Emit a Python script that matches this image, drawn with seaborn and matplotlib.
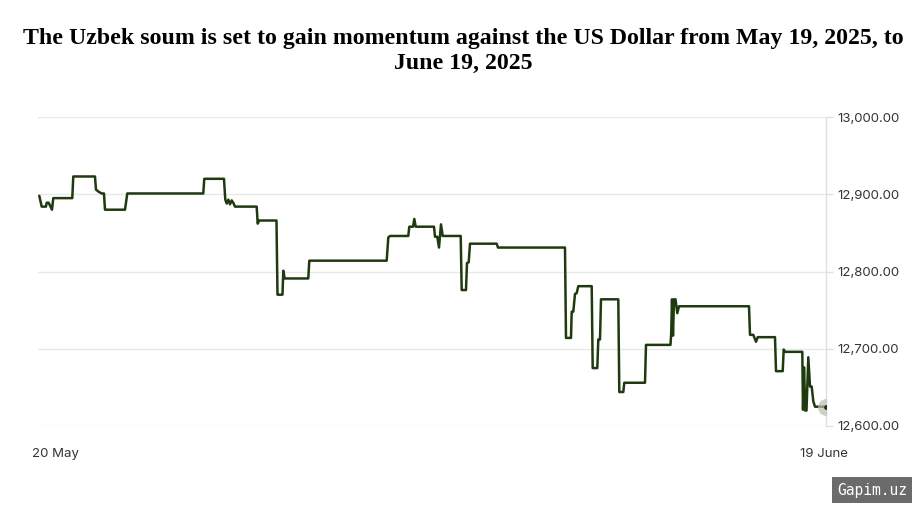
import matplotlib
matplotlib.use("Agg")
import matplotlib.pyplot as plt
import matplotlib.dates as mdates
import matplotlib.ticker as mticker
import pandas as pd
import seaborn as sns

# ---- data ----
title_text = ("The Uzbek soum is set to gain momentum against the US Dollar from May 19, 2025, to\n"
              "June 19, 2025")
base_time = "2025-05-20 00:00"
# hours relative to 20 May 2025 00:00
hours = [-14.70, -12.45, -8.43, -7.77, -5.90, -2.81, -1.59, 16.20, 17.14, 37.46,
         38.39, 41.20, 43.73, 45.88, 46.82, 65.55, 66.48, 67.70, 138.87, 139.80,
         158.25, 159.47, 160.78, 162.28, 163.87, 165.46, 166.96, 168.55, 188.87, 189.81,
         191.31, 207.41, 208.35, 213.03, 213.78, 215.09, 237.19, 238.13, 310.60, 312.10,
         313.69, 330.83, 331.77, 335.23, 336.45, 337.76, 354.90, 355.83, 357.99, 359.58,
         361.45, 363.04, 379.90, 380.83, 384.86, 385.80, 387.39, 388.61, 413.61, 414.83,
         477.56, 478.50, 483.18, 483.84, 485.34, 486.93, 488.52, 490.02, 502.57, 503.50,
         507.81, 508.75, 510.34, 511.27, 527.47, 528.41, 532.16, 533.09, 552.48, 553.41,
         576.35, 577.01, 577.76, 578.70, 579.63, 581.04, 582.72, 584.31, 649.86, 650.80,
         653.89, 656.42, 658.01, 674.21, 675.14, 681.42, 682.36, 683.57, 699.77, 700.43,
         701.36, 702.58, 703.70, 705.39, 706.98, 708.57, 710.07, 711.66, 721.96]
rates = [12898, 12884, 12884, 12889, 12889, 12880, 12895, 12895, 12923, 12923,
         12906, 12903, 12901, 12901, 12880, 12880, 12889, 12901, 12901, 12920,
         12920, 12893, 12888, 12893, 12887, 12892, 12889, 12884, 12884, 12862,
         12866, 12866, 12770, 12770, 12801, 12791, 12791, 12814, 12814, 12844,
         12846, 12846, 12858, 12858, 12868, 12858, 12858, 12845, 12845, 12831,
         12861, 12846, 12846, 12776, 12776, 12811, 12812, 12836, 12836, 12831,
         12831, 12714, 12714, 12748, 12748, 12771, 12772, 12781, 12781, 12675,
         12675, 12712, 12712, 12764, 12764, 12644, 12644, 12656, 12656, 12705,
         12705, 12720, 12764, 12717, 12764, 12764, 12746, 12755, 12755, 12718,
         12718, 12709, 12715, 12715, 12671, 12671, 12699, 12696, 12696, 12621,
         12676, 12620, 12620, 12689, 12651, 12651, 12632, 12625, 12625]
x_tick_times = ["2025-05-20", "2025-06-19"]
x_tick_labels = ["20 May", "19 June"]
y_ticks = [12600, 12700, 12800, 12900, 13000]
y_range = [12600, 13000]
x_range_hours = [-15.9, 721.96]
watermark = "Gapim.uz"

# ---- frame ----
t0 = pd.Timestamp(base_time)
df = pd.DataFrame({
    "time": t0 + pd.to_timedelta(hours, unit="h"),
    "rate": rates,
})

sns.set_theme(style="white")
plt.rcParams["font.family"] = ["Inter", "DejaVu Sans"]

fig = plt.figure(figsize=(9.19, 5.08), dpi=100)
ax = fig.add_axes([38 / 919, 1 - 426 / 508, (826 - 38) / 919, (426 - 117) / 508])

line_color = "#203a10"
sns.lineplot(data=df, x="time", y="rate", ax=ax, color=line_color,
             linewidth=1.8, estimator=None, sort=False)

last = df.iloc[-1]
ax.scatter([last["time"]], [last["rate"]], s=150, color="#b9c0b0", alpha=0.7,
           zorder=4, linewidths=0)
ax.scatter([last["time"]], [last["rate"]], s=12, color=line_color, zorder=5,
           linewidths=0)

ax.set_ylim(*y_range)
ax.set_xlim(t0 + pd.Timedelta(hours=x_range_hours[0]),
            t0 + pd.Timedelta(hours=x_range_hours[1]))

ax.set_xticks([pd.Timestamp(t) for t in x_tick_times])
ax.set_xticklabels(x_tick_labels)
ax.set_yticks(y_ticks)
ax.yaxis.set_major_formatter(mticker.FuncFormatter(lambda v, p: f"{v:,.2f}"))
ax.yaxis.tick_right()
ax.set_xlabel("")
ax.set_ylabel("")

ax.grid(axis="y", color="#e8e8e8", linewidth=1)
ax.grid(axis="x", visible=False)
for s in ["left", "top", "bottom"]:
    ax.spines[s].set_visible(False)
ax.spines["right"].set_color("#e0e0e0")
ax.spines["right"].set_linewidth(1)

ax.tick_params(axis="y", which="major", length=5, width=1, color="#e0e0e0",
               labelsize=9.5, labelcolor="#333333", pad=3.5, right=True, left=False)
ax.tick_params(axis="x", length=0, labelsize=9.5, labelcolor="#333333", pad=15.5)

fig.text(0.504, 1 - 51 / 508, title_text, ha="center", va="center",
         fontsize=17.2, fontweight="bold", family=["Liberation Serif", "DejaVu Serif"],
         color="#000000", linespacing=1.2)

fig.text(872 / 919, 1 - 490 / 508, watermark, ha="center", va="center",
         fontsize=10.5, color="white", family=["DejaVu Sans Mono"],
         bbox=dict(boxstyle="square,pad=0.35", facecolor="#6b6b6b", edgecolor="none"))

fig.savefig("out.png", dpi=100)
